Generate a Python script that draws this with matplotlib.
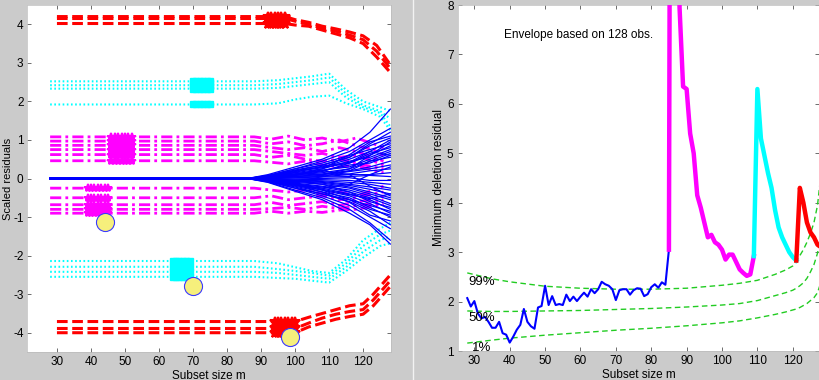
import numpy as np
import matplotlib
matplotlib.use("Agg")
import matplotlib.pyplot as plt
from matplotlib.lines import Line2D

plt.rcParams['font.family'] = ['Liberation Sans', 'DejaVu Sans']
plt.rcParams['font.size'] = 8.5
plt.rcParams['axes.unicode_minus'] = False

# ---------------- data: left panel (scaled residual trajectories) ----------------
red_top_m = [30, 97, 100, 104, 108, 112, 116, 120, 124, 128]
red_top = [[4.20, 4.20, 4.12, 4.05, 3.95, 3.88, 3.80, 3.70, 3.45, 2.95],
           [4.15, 4.15, 4.08, 4.00, 3.90, 3.82, 3.72, 3.60, 3.30, 2.85],
           [4.02, 4.02, 3.98, 3.95, 3.85, 3.75, 3.65, 3.50, 3.15, 2.75]]
red_top_mark_m = [92, 93, 94, 95, 96, 97]

red_bot_m = [30, 100, 104, 108, 112, 116, 120, 123, 126, 128]
red_bot = [[-3.71, -3.71, -3.60, -3.50, -3.40, -3.30, -3.25, -3.00, -2.70, -2.50],
           [-3.89, -3.89, -3.75, -3.62, -3.52, -3.45, -3.40, -3.15, -2.85, -2.65],
           [-4.00, -4.00, -3.85, -3.75, -3.65, -3.58, -3.52, -3.30, -3.00, -2.80]]
red_bot_mark_m = [94, 95, 96, 97, 98, 99, 100]

cyan_m = [28, 88, 95, 100, 105, 110, 115, 120, 125, 128]
cyan_top = [[2.52, 2.52, 2.55, 2.60, 2.65, 2.72, 2.30, 2.00, 1.85, 1.75],
            [2.42, 2.42, 2.45, 2.50, 2.55, 2.62, 2.20, 1.90, 1.75, 1.55],
            [2.33, 2.33, 2.35, 2.40, 2.45, 2.50, 2.10, 1.85, 1.70, 1.35],
            [1.92, 1.92, 1.95, 2.05, 2.12, 2.15, 1.95, 1.80, 1.60, 1.25]]
cyan_top_mark_m = [70, 71, 72, 73, 74, 75]
cyan_bot = [[-2.14, -2.14, -2.20, -2.30, -2.40, -2.45, -2.10, -1.60, -1.30, -1.15],
            [-2.29, -2.29, -2.35, -2.40, -2.45, -2.52, -2.20, -1.75, -1.45, -1.35],
            [-2.42, -2.42, -2.45, -2.50, -2.55, -2.60, -2.30, -1.90, -1.60, -1.50],
            [-2.55, -2.55, -2.58, -2.60, -2.65, -2.70, -2.40, -2.05, -1.75, -1.68]]
cyan_bot_mark_m = [64, 65, 66, 67, 68, 69]

mag_m = [28, 88, 93, 98, 103, 108, 113, 118, 123, 126]
mag_top = [[1.08, 1.08, 1.02, 1.10, 1.00, 1.05, 0.95, 1.05, 0.90, 0.80],
           [0.97, 0.97, 0.90, 0.95, 0.85, 0.90, 1.00, 0.85, 0.75, 0.60],
           [0.86, 0.86, 0.80, 0.75, 0.80, 0.70, 0.80, 0.70, 0.55, 0.45],
           [0.75, 0.75, 0.70, 0.65, 0.60, 0.65, 0.55, 0.60, 0.45, 0.35],
           [0.62, 0.62, 0.55, 0.60, 0.50, 0.45, 0.50, 0.40, 0.30, 0.25],
           [0.46, 0.46, 0.42, 0.38, 0.45, 0.35, 0.30, 0.35, 0.20, 0.15]]
mag_top_mark_m = [46, 47, 48, 49, 50, 51, 52]
mag_bot = [[-0.25, -0.25, -0.30, -0.35, -0.30, -0.40, -0.35, -0.45, -0.30, -0.20],
           [-0.50, -0.50, -0.45, -0.55, -0.50, -0.45, -0.55, -0.50, -0.40, -0.35],
           [-0.68, -0.68, -0.62, -0.70, -0.65, -0.60, -0.70, -0.60, -0.55, -0.45],
           [-0.80, -0.80, -0.78, -0.75, -0.80, -0.72, -0.78, -0.70, -0.65, -0.55],
           [-0.90, -0.90, -0.85, -0.90, -0.85, -0.88, -0.82, -0.80, -0.72, -0.65]]
mag_bot_mark_m = [39, 40, 41, 42, 43, 44, 45]

blue_m = [28, 86, 92, 100, 108, 116, 122, 128]
blue = [[0, 0, 0.10, 0.30, 0.50, 0.80, 1.20, 1.80],
        [0, 0, 0.08, 0.25, 0.45, 0.70, 1.00, 1.30],
        [0, 0, 0.07, 0.22, 0.35, 0.55, 0.90, 1.20],
        [0, 0, 0.06, 0.20, 0.30, 0.50, 0.70, 1.00],
        [0, 0, 0.05, 0.18, 0.28, 0.40, 0.60, 0.85],
        [0, 0, 0.05, 0.15, 0.25, 0.45, 0.55, 0.75],
        [0, 0, 0.04, 0.12, 0.22, 0.30, 0.50, 0.70],
        [0, 0, 0.04, 0.10, 0.20, 0.35, 0.40, 0.60],
        [0, 0, 0.03, 0.10, 0.15, 0.25, 0.45, 0.55],
        [0, 0, 0.03, 0.08, 0.12, 0.20, 0.30, 0.45],
        [0, 0, 0.02, 0.06, 0.10, 0.18, 0.25, 0.35],
        [0, 0, 0.02, 0.05, 0.08, 0.12, 0.20, 0.25],
        [0, 0, 0.01, 0.04, 0.05, 0.10, 0.10, 0.15],
        [0, 0, 0.01, 0.02, 0.04, 0.05, 0.08, 0.05],
        [0, 0, 0.00, 0.01, 0.00, 0.02, -0.05, -0.05],
        [0, 0, -0.01, -0.02, -0.03, -0.05, -0.10, -0.15],
        [0, 0, -0.01, -0.04, -0.06, -0.10, -0.15, -0.25],
        [0, 0, -0.02, -0.05, -0.08, -0.15, -0.22, -0.30],
        [0, 0, -0.02, -0.06, -0.10, -0.18, -0.28, -0.40],
        [0, 0, -0.03, -0.08, -0.12, -0.22, -0.35, -0.50],
        [0, 0, -0.03, -0.10, -0.15, -0.25, -0.40, -0.55],
        [0, 0, -0.04, -0.12, -0.20, -0.30, -0.45, -0.65],
        [0, 0, -0.04, -0.14, -0.22, -0.35, -0.50, -0.70],
        [0, 0, -0.05, -0.15, -0.25, -0.40, -0.55, -0.80],
        [0, 0, -0.05, -0.18, -0.30, -0.45, -0.65, -0.90],
        [0, 0, -0.06, -0.20, -0.35, -0.50, -0.75, -1.00],
        [0, 0, -0.07, -0.22, -0.40, -0.60, -0.85, -1.20],
        [0, 0, -0.08, -0.25, -0.45, -0.70, -1.00, -1.30],
        [0, 0, -0.09, -0.30, -0.50, -0.80, -1.15, -1.60],
        [0, 0, -0.10, -0.33, -0.55, -0.90, -1.20, -1.70],
        [0, 0, 0.06, 0.15, 0.10, 0.25, 0.60, 0.95],
        [0, 0, -0.04, -0.10, 0.05, 0.20, 0.45, 0.65],
        [0, 0, 0.03, 0.12, 0.20, 0.10, -0.20, -0.45],
        [0, 0, -0.05, -0.18, -0.25, -0.15, 0.10, 0.30],
        [0, 0, 0.05, 0.20, 0.35, 0.55, 0.85, 1.05],
        [0, 0, -0.06, -0.15, -0.30, -0.55, -0.80, -0.95],
        [0, 0, 0.07, 0.25, 0.40, 0.60, 0.75, 0.90],
        [0, 0, -0.07, -0.25, -0.40, -0.55, -0.70, -0.85],
        [0, 0, 0.02, 0.08, 0.18, 0.40, 0.65, 0.80],
        [0, 0, -0.03, -0.06, -0.15, -0.35, -0.60, -0.75],
        [0, 0, 0.04, 0.16, 0.32, 0.42, 0.70, 0.60],
        [0, 0, -0.02, -0.12, -0.28, -0.42, -0.52, -0.40],
        [0, 0, 0.05, 0.10, 0.25, 0.62, 0.95, 1.10],
        [0, 0, -0.04, -0.16, -0.35, -0.62, -0.95, -1.10]]

circle_m = [44, 70, 98.5]
circle_v = [-1.12, -2.79, -4.10]

left_xticks = [30, 40, 50, 60, 70, 80, 90, 100, 110, 120]
left_yticks = [-4, -3, -2, -1, 0, 1, 2, 3, 4]

# ---------------- data: right panel (minimum deletion residual) ----------------
mdr_m = list(range(28, 86))
mdr_v = [2.07, 1.90, 2.01, 1.76, 1.66, 1.69, 1.59, 1.47, 1.47, 1.59,
         1.36, 1.33, 1.17, 1.29, 1.43, 1.53, 1.85, 1.59, 1.50, 1.45,
         1.88, 1.91, 2.32, 1.93, 2.11, 1.93, 1.95, 1.93, 2.14, 2.01,
         2.10, 2.01, 2.10, 2.18, 2.10, 2.25, 2.17, 2.25, 2.40, 2.35,
         2.32, 2.25, 2.03, 2.23, 2.25, 2.25, 2.14, 2.23, 2.27, 2.26,
         2.11, 2.15, 2.29, 2.35, 2.28, 2.39, 2.34, 3.05]
mag_mdr_m = [85, 86, 87, 88, 89, 90, 91, 92, 93, 94, 95, 96, 97, 98, 99,
             100, 101, 102, 103, 104, 105, 106, 107, 108, 109]
mag_mdr_v = [3.05, 30.0, 20.0, 7.95, 6.35, 6.30, 5.40, 5.00, 4.15, 3.90, 3.60,
             3.30, 3.35, 3.20, 3.15, 3.05, 2.85, 2.95, 2.95, 2.80, 2.65, 2.58,
             2.52, 2.55, 2.92]
cyan_mdr_m = [109, 110, 111, 112, 113, 114, 115, 116, 117, 118, 119, 120, 121]
cyan_mdr_v = [2.92, 6.30, 5.30, 4.95, 4.60, 4.30, 3.85, 3.50, 3.30, 3.15, 3.00, 2.90, 2.83]
red_mdr_m = [121, 122, 123, 124, 125, 126, 127, 128]
red_mdr_v = [2.83, 4.30, 4.00, 3.60, 3.40, 3.30, 3.15, 3.10]

env_m = [28, 35, 40, 50, 60, 70, 80, 90, 100, 105, 110, 115, 118, 120, 121,
         122, 123, 124, 125, 126, 127, 128]
env_99 = [2.58, 2.46, 2.40, 2.31, 2.27, 2.25, 2.25, 2.27, 2.33, 2.37, 2.43,
          2.55, 2.64, 2.72, 2.82, 2.93, 3.05, 3.20, 3.38, 3.60, 3.95, 4.60]
env_50 = [1.81, 1.80, 1.80, 1.81, 1.82, 1.84, 1.86, 1.89, 1.93, 1.96, 2.02,
          2.12, 2.18, 2.23, 2.27, 2.32, 2.38, 2.47, 2.60, 2.75, 2.98, 3.40]
env_01 = [1.16, 1.22, 1.26, 1.32, 1.37, 1.42, 1.46, 1.51, 1.57, 1.61, 1.67,
          1.74, 1.79, 1.83, 1.85, 1.88, 1.92, 1.96, 2.02, 2.08, 2.18, 2.40]
env_labels = ['99%', '50%', '1%']

right_xticks = [30, 40, 50, 60, 70, 80, 90, 100, 110, 120]
right_yticks = [1, 2, 3, 4, 5, 6, 7, 8]

# ---------------- figure ----------------
BG = '#cbcbcb'
fig = plt.figure(figsize=(8.2, 3.8), dpi=100, facecolor=BG)
axL = fig.add_axes([27 / 820, 1 - 352 / 380, 364 / 820, 347 / 380])
axR = fig.add_axes([457.7 / 820, 1 - 351 / 380, 361.6 / 820, 346 / 380])

# separator between the two windows
fig.add_artist(Line2D([413 / 820, 413 / 820], [0, 1], transform=fig.transFigure,
                      color='#f2f2f2', lw=1.0))

RED, CYAN, MAG, BLUE = '#ff0000', '#00ffff', '#ff00ff', '#0000ff'

# magenta dash-dot trajectories
for row in mag_top + mag_bot:
    axL.plot(mag_m, row, color=MAG, lw=2.0, dashes=(4, 1.5, 1, 1.5), zorder=2)
# cyan dotted trajectories
for row in cyan_top + cyan_bot:
    axL.plot(cyan_m, row, color=CYAN, lw=1.5, dashes=(0.8, 1.2), zorder=2)
# red dashed trajectories
for row in red_top:
    axL.plot(red_top_m, row, color=RED, lw=2.2, dashes=(3.5, 1.5), zorder=2)
for row in red_bot:
    axL.plot(red_bot_m, row, color=RED, lw=2.2, dashes=(3.5, 1.5), zorder=2)
# blue fan
for row in blue:
    axL.plot(blue_m, row, color=BLUE, lw=0.9, zorder=3)

# markers on highlighted trajectories
for row in mag_top:
    axL.plot(mag_top_mark_m, [row[0]] * len(mag_top_mark_m), ls='none', marker='*',
             ms=6, mew=1.4, color=MAG, zorder=4)
for row in mag_bot:
    axL.plot(mag_bot_mark_m, [row[0]] * len(mag_bot_mark_m), ls='none', marker='*',
             ms=6, mew=1.4, color=MAG, zorder=4)
for row in cyan_top:
    axL.plot(cyan_top_mark_m, [row[0]] * len(cyan_top_mark_m), ls='none', marker='s',
             ms=5, color=CYAN, zorder=4)
for row in cyan_bot:
    axL.plot(cyan_bot_mark_m, [row[0]] * len(cyan_bot_mark_m), ls='none', marker='s',
             ms=5, color=CYAN, zorder=4)
for row in red_top:
    axL.plot(red_top_mark_m, [row[0]] * len(red_top_mark_m), ls='none', marker='*',
             ms=7, mew=1.5, color=RED, zorder=4)
for row in red_bot:
    axL.plot(red_bot_mark_m, [row[0]] * len(red_bot_mark_m), ls='none', marker='*',
             ms=7, mew=1.5, color=RED, zorder=4)

axL.plot(circle_m, circle_v, ls='none', marker='o', ms=13, mfc='#f6ef7c',
         mec='#3a3aff', mew=0.8, zorder=5)

axL.set_xlim(21.2, 128.2)
axL.set_ylim(-4.5, 4.5)
axL.set_xticks(left_xticks)
axL.set_yticks(left_yticks)
axL.set_xlabel('Subset size m', labelpad=1)
axL.set_ylabel('Scaled residuals', fontsize=8)
axL.yaxis.set_label_coords(-0.0385, 0.5)

# right panel
axR.plot(env_m, env_99, color='#22cc22', lw=1.0, dashes=(4, 2.5), zorder=2)
axR.plot(env_m, env_50, color='#22cc22', lw=1.0, dashes=(4, 2.5), zorder=2)
axR.plot(env_m, env_01, color='#22cc22', lw=1.0, dashes=(4, 2.5), zorder=2)
axR.plot(mdr_m, mdr_v, color=BLUE, lw=1.5, zorder=3)
axR.plot(mag_mdr_m, mag_mdr_v, color=MAG, lw=3.2, zorder=3)
axR.plot(cyan_mdr_m, cyan_mdr_v, color=CYAN, lw=3.2, zorder=3)
axR.plot(red_mdr_m, red_mdr_v, color=RED, lw=3.2, zorder=3)

axR.text(28.2, 2.40, env_labels[0], fontsize=9.5, va='center', ha='left')
axR.text(28.2, 1.66, env_labels[1], fontsize=9.5, va='center', ha='left')
axR.text(29.3, 1.07, env_labels[2], fontsize=9.5, va='center', ha='left')
axR.text(38.4, 7.40, 'Envelope based on 128 obs.', fontsize=8.5, va='center', ha='left')

axR.set_xlim(25.3, 127.5)
axR.set_ylim(1, 8)
axR.set_xticks(right_xticks)
axR.set_yticks(right_yticks)
axR.set_xlabel('Subset size m', labelpad=1)
axR.set_ylabel('Minimum deletion residual')
axR.yaxis.set_label_coords(-0.034, 0.5)

for ax in (axL, axR):
    ax.set_facecolor('white')
    ax.tick_params(direction='in', top=True, right=True, length=3, width=0.6,
                   color='#555555', labelsize=8.5, pad=3)
    for s in ax.spines.values():
        s.set_color('#bbbbbb')
        s.set_linewidth(0.5)
axL.tick_params(axis='y', pad=2.5)

fig.savefig('out.png', dpi=100, facecolor=BG)
